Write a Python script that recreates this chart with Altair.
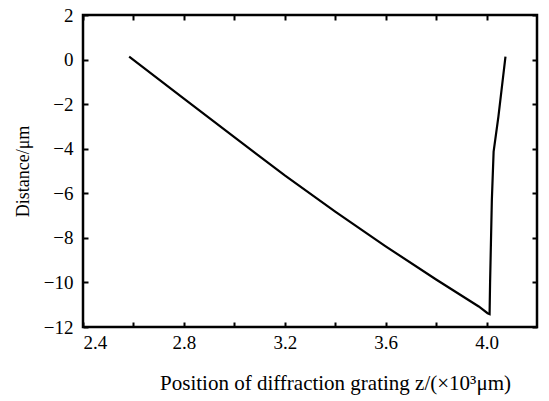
import altair as alt
import pandas as pd

# Curve values
z_pos = [2.583, 2.80, 3.00, 3.20, 3.40, 3.60, 3.80, 3.969, 4.004, 4.012,
         4.014, 4.021, 4.028, 4.047, 4.075]
dist = [0.13, -1.75, -3.48, -5.20, -6.82, -8.38, -9.87, -11.08, -11.38, -11.42,
        -10.0, -6.3, -4.13, -2.56, 0.13]

# Axis tick positions (labels on every other x tick)
x_ticks = [2.4, 2.6, 2.8, 3.0, 3.2, 3.4, 3.6, 3.8, 4.0]
y_ticks = [-12, -10, -8, -6, -4, -2, 0, 2]

X_MIN, X_MAX = 2.4, 4.2
Y_MIN, Y_MAX = -12, 2
TICK = 5  # inward tick length (px)

FONT = "Liberation Serif"

df = pd.DataFrame({"z": z_pos, "d": dist, "i": list(range(len(z_pos)))})

xs = alt.Scale(domain=[X_MIN, X_MAX], nice=False, zero=False)
ys = alt.Scale(domain=[Y_MIN, Y_MAX], nice=False, zero=False)

x_label_expr = "abs(round(datum.value * 10)) % 4 == 0 ? format(datum.value, '.1f') : ''"

# Main curve with bottom/left axes: axis line moved inward so ticks point into the plot
line = alt.Chart(df).mark_line(color="black", strokeWidth=2.2).encode(
    x=alt.X("z:Q", scale=xs,
            axis=alt.Axis(orient="bottom", values=x_ticks, labelExpr=x_label_expr,
                          offset=-TICK, tickSize=TICK, tickWidth=2, tickColor="black",
                          domain=False, grid=False,
                          labelFont=FONT, labelFontSize=19, labelColor="black", labelPadding=6,
                          title="Position of diffraction grating z/(×10³μm)",
                          titleFont=FONT, titleFontSize=21, titleFontWeight="normal",
                          titleColor="black", titleX=252, titleY=67,
                          titleBaseline="alphabetic", titleAnchor="start", titleAlign="center")),
    y=alt.Y("d:Q", scale=ys,
            axis=alt.Axis(orient="left", values=y_ticks, format="d",
                          offset=-TICK, tickSize=TICK, tickWidth=2, tickColor="black",
                          domain=False, grid=False,
                          labelFont=FONT, labelFontSize=19, labelColor="black", labelPadding=10,
                          title="Distance/μm", titleFont=FONT, titleFontSize=18,
                          titleFontWeight="normal", titleColor="black", titleX=-56,
                          titleY=156, titleAnchor="start", titleAlign="center")),
    order="i:O",
)

# Invisible copy carrying the mirrored top/right tick axes
mirror = alt.Chart(df).mark_line(opacity=0).encode(
    x=alt.X("z:Q", scale=xs,
            axis=alt.Axis(orient="top", values=x_ticks, labels=False, title="",
                          offset=-TICK, tickSize=TICK, tickWidth=2, tickColor="black",
                          domain=False, grid=False)),
    y=alt.Y("d:Q", scale=ys,
            axis=alt.Axis(orient="right", values=y_ticks, labels=False, title="",
                          offset=-TICK, tickSize=TICK, tickWidth=2, tickColor="black",
                          domain=False, grid=False)),
    order="i:O",
)

chart = alt.layer(line, mirror).resolve_axis(x="independent", y="independent").properties(
    width=454, height=312,
    autosize=alt.AutoSizeParams(type="none"),
    padding={"left": 83, "top": 15, "right": 12, "bottom": 74},
    background="white",
).configure_view(stroke="black", strokeWidth=2.5)

chart.save("out.html", embed_options={"renderer": "svg", "actions": False})
